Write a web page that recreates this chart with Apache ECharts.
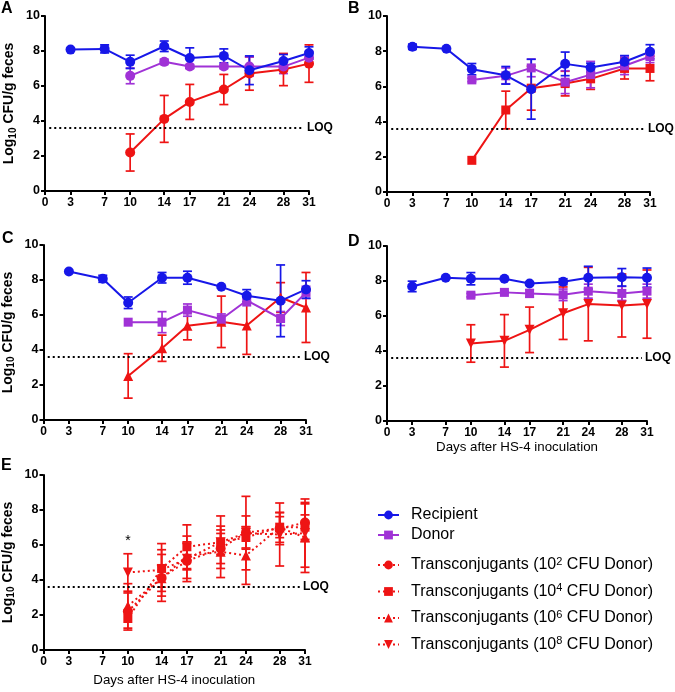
<!DOCTYPE html>
<html>
<head>
<meta charset="utf-8">
<script src="https://cdn.jsdelivr.net/npm/echarts@6/dist/echarts.min.js"></script>
<style>
  html, body { margin: 0; padding: 0; background: #fff; }
  #chart { width: 675px; height: 692px; }
</style>
</head>
<body>
<div id="chart"></div>
<script>
// ---------------- DATA ----------------
const xTicks = [0, 3, 7, 10, 14, 17, 21, 24, 28, 31];
const days = [3, 7, 10, 14, 17, 21, 24, 28, 31];
const tcDays = [10, 14, 17, 21, 24, 28, 31];
const LOQ = 3.6;

// Panel A
const recipA = [8.08, 8.12, 7.38, 8.27, 7.60, 7.72, 6.90, 7.43, 7.89];
const recipAErr = [0, 0.23, 0.38, 0.30, 0.58, 0.40, 0.82, 0.37, 0.35];
const donorA = [6.58, 7.38, 7.11, 7.11, 7.11, 7.11, 7.62];
const donorAErr = [0.45, 0.15, 0.12, 0.12, 0.55, 0.40, 0.35];
const tcA = [2.20, 4.12, 5.09, 5.80, 6.71, 6.94, 7.28];
const tcAErr = [1.06, 1.34, 1.00, 0.86, 0.95, 0.92, 1.07];

// Panel B
const recipB = [8.25, 8.14, 6.98, 6.63, 5.84, 7.28, 7.07, 7.40, 7.97];
const recipBErr = [0.15, 0, 0.32, 0.50, 1.70, 0.67, 0.25, 0.35, 0.40];
const donorB = [6.37, 6.60, 7.05, 6.24, 6.67, 7.17, 7.70];
const donorBErr = [0.10, 0.45, 0.50, 0.65, 0.75, 0.50, 0.35];
const tcB = [1.80, 4.66, 5.90, 6.16, 6.43, 7.02, 7.02];
const tcBErr = [0, 1.07, 1.25, 0.70, 0.60, 0.60, 0.70];

// Panel C
const recipC = [8.49, 8.07, 6.70, 8.13, 8.13, 7.61, 7.10, 6.81, 7.46];
const recipCErr = [0, 0.20, 0.33, 0.30, 0.37, 0.05, 0.35, 2.05, 0.50];
const donorC = [5.59, 5.59, 6.28, 5.76, 6.83, 5.80, 7.29];
const donorCErr = [0, 0.60, 0.35, 0.30, 0.30, 0.40, 0.35];
const tcC = [2.52, 4.10, 5.38, 5.61, 5.40, 7.00, 6.43];
const tcCErr = [1.27, 0.75, 0.80, 1.47, 1.65, 0.85, 2.00];

// Panel D
const recipD = [7.69, 8.19, 8.13, 8.13, 7.86, 7.96, 8.19, 8.21, 8.19];
const recipDErr = [0.30, 0.05, 0.35, 0.05, 0.05, 0.17, 0.65, 0.50, 0.55];
const donorD = [7.19, 7.35, 7.29, 7.21, 7.42, 7.29, 7.42];
const donorDErr = [0.10, 0.05, 0.22, 0.33, 0.40, 0.40, 0.40];
const tcD = [4.43, 4.58, 5.21, 6.16, 6.68, 6.60, 6.68];
const tcDErr = [1.07, 1.50, 1.30, 1.50, 2.10, 1.80, 1.95];

const tcNames = [
  'Transconjugants (10^2 CFU Donor)',
  'Transconjugants (10^4 CFU Donor)',
  'Transconjugants (10^6 CFU Donor)',
  'Transconjugants (10^8 CFU Donor)'
];
const asteriskDay = 10, asteriskY = 6.2;

// ---------------- STYLE ----------------
const FONT = "'Liberation Sans', Arial, Helvetica, sans-serif";
const BLUE = '#1717e8', PURPLE = '#a032d6', RED = '#ee1414';
const DOWN_TRI = 'path://M0,0 L10,0 L5,9 Z';
const DOT = [2, 3];

const panels = [
  { letter: 'A', grid: { left: 45, top: 16, width: 264, height: 175 }, tl: [1, 1],
    recip: recipA, recipErr: recipAErr, donor: donorA, donorErr: donorAErr, donorName: 'Donor (A)', donorSym: 'circle',
    tc: tcA, tcErr: tcAErr, tcSym: 'circle', tcSize: 10, yName: true, xName: false },
  { letter: 'B', grid: { left: 387, top: 16, width: 263, height: 176 }, tl: [348, 1],
    recip: recipB, recipErr: recipBErr, donor: donorB, donorErr: donorBErr, donorName: 'Donor', donorSym: 'rect',
    tc: tcB, tcErr: tcBErr, tcSym: 'rect', tcSize: 9, yName: false, xName: false },
  { letter: 'C', grid: { left: 43, top: 245, width: 263, height: 175 }, tl: [2, 231],
    recip: recipC, recipErr: recipCErr, donor: donorC, donorErr: donorCErr, donorName: 'Donor', donorSym: 'rect',
    tc: tcC, tcErr: tcCErr, tcSym: 'triangle', tcSize: 10, yName: true, xName: false },
  { letter: 'D', grid: { left: 387, top: 246, width: 260, height: 175 }, tl: [348, 234],
    recip: recipD, recipErr: recipDErr, donor: donorD, donorErr: donorDErr, donorName: 'Donor', donorSym: 'rect',
    tc: tcD, tcErr: tcDErr, tcSym: DOWN_TRI, tcSize: 10, yName: false, xName: true, xNameGap: 20 },
  { letter: 'E', grid: { left: 42, top: 475, width: 263, height: 175 }, tl: [1, 458],
    yName: true, xName: true, xNameGap: 24 }
];

const grids = [], xAxes = [], yAxes = [], series = [], titles = [];

function zip3(xs, ys, es) { return xs.map((x, i) => [x, ys[i], es[i]]); }
function zip2(xs, ys) { return xs.map((x, i) => [x, ys[i]]); }

function errSeries(idx, xs, ys, es, color) {
  return {
    type: 'custom', xAxisIndex: idx, yAxisIndex: idx, silent: true, z: 2,
    encode: { x: 0, y: 1 },
    data: zip3(xs, ys, es),
    renderItem: function (params, api) {
      const x = api.value(0), m = api.value(1), e = api.value(2);
      if (!e) return null;
      const p1 = api.coord([x, m + e]), p2 = api.coord([x, m - e]);
      const w = 4.5;
      const st = { stroke: color, lineWidth: 1.7 };
      return { type: 'group', children: [
        { type: 'line', shape: { x1: p1[0], y1: p1[1], x2: p2[0], y2: p2[1] }, style: st },
        { type: 'line', shape: { x1: p1[0] - w, y1: p1[1], x2: p1[0] + w, y2: p1[1] }, style: st },
        { type: 'line', shape: { x1: p2[0] - w, y1: p2[1], x2: p2[0] + w, y2: p2[1] }, style: st }
      ]};
    }
  };
}

function lineSeries(name, idx, xs, ys, color, symbol, size, dotted) {
  return {
    type: 'line', name: name, xAxisIndex: idx, yAxisIndex: idx, z: 3,
    data: zip2(xs, ys),
    symbol: symbol, symbolSize: size, showAllSymbol: true,
    itemStyle: { color: color, borderWidth: 0 },
    lineStyle: { color: color, width: 2, type: dotted ? DOT : 'solid' },
    emphasis: { disabled: true },
    silent: true
  };
}

function loqMarkLine() {
  return {
    silent: true, symbol: 'none', animation: false,
    lineStyle: { color: '#000', width: 2, type: DOT },
    label: { show: true, position: 'end', formatter: 'LOQ', color: '#000',
             fontFamily: FONT, fontWeight: 'bold', fontSize: 12, distance: 3 },
    emphasis: { disabled: true },
    data: [[{ coord: [0.5, LOQ] }, { coord: [30.4, LOQ] }]]
  };
}

const yNameRich = {
  b: { fontFamily: FONT, fontSize: 14, fontWeight: 'bold', color: '#000', lineHeight: 17 },
  s: { fontFamily: FONT, fontSize: 10, fontWeight: 'bold', color: '#000', lineHeight: 10, verticalAlign: 'bottom' }
};

panels.forEach((p, i) => {
  grids.push(Object.assign({ containLabel: false }, p.grid));
  titles.push({ text: p.letter, left: p.tl[0], top: p.tl[1], padding: 0,
    textStyle: { fontFamily: FONT, fontSize: 16, fontWeight: 'bold', color: '#000' } });
  xAxes.push({
    type: 'value', gridIndex: i, min: 0, max: 31,
    name: p.xName ? 'Days after HS-4 inoculation' : '',
    nameLocation: 'middle', nameGap: p.xNameGap || 20,
    nameTextStyle: { fontFamily: FONT, fontSize: 13.3, color: '#000' },
    axisLine: { show: true, onZero: false, lineStyle: { color: '#000', width: 2 } },
    axisTick: { show: true, customValues: xTicks, length: 4, lineStyle: { color: '#000', width: 2 } },
    axisLabel: { customValues: xTicks, margin: 6, color: '#000', fontFamily: FONT, fontSize: 12, fontWeight: 'bold' },
    splitLine: { show: false }
  });
  yAxes.push({
    type: 'value', gridIndex: i, min: 0, max: 10, interval: 2,
    name: p.yName ? '{b|Log}{s|10}{b| CFU/g feces}' : '',
    nameLocation: 'middle', nameGap: 27,
    nameTextStyle: { rich: yNameRich },
    axisLine: { show: true, onZero: false, lineStyle: { color: '#000', width: 2 } },
    axisTick: { show: true, length: 4, lineStyle: { color: '#000', width: 2 } },
    axisLabel: { margin: 5, color: '#000', fontFamily: FONT, fontSize: 12.5, fontWeight: 'bold' },
    splitLine: { show: false }
  });

  if (p.letter !== 'E') {
    series.push(errSeries(i, tcDays, p.tc, p.tcErr, RED));
    const tcS = lineSeries('Transconjugants ' + p.letter, i, tcDays, p.tc, RED, p.tcSym, p.tcSize, false);
    tcS.markLine = loqMarkLine();
    series.push(tcS);
    series.push(errSeries(i, tcDays, p.donor, p.donorErr, PURPLE));
    series.push(lineSeries(p.donorName, i, tcDays, p.donor, PURPLE, p.donorSym, p.donorSym === 'rect' ? 9 : 10, false));
    series.push(errSeries(i, days, p.recip, p.recipErr, BLUE));
    series.push(lineSeries('Recipient', i, days, p.recip, BLUE, 'circle', 10, false));
  } else {
    const tcSets = [[tcA, tcAErr, 'circle', 10], [tcB, tcBErr, 'rect', 9],
                    [tcC, tcCErr, 'triangle', 10], [tcD, tcDErr, DOWN_TRI, 10]];
    tcSets.forEach((s, k) => {
      series.push(errSeries(i, tcDays, s[0], s[1], RED));
      const ls = lineSeries(tcNames[k], i, tcDays, s[0], RED, s[2], s[3], true);
      if (k === 0) {
        ls.markLine = loqMarkLine();
        ls.markPoint = {
          silent: true, symbol: 'circle', symbolSize: 1, itemStyle: { color: 'rgba(0,0,0,0)' },
          label: { show: true, position: 'inside', formatter: '*', color: '#000', fontFamily: FONT, fontSize: 14 },
          data: [{ coord: [asteriskDay, asteriskY] }]
        };
      }
      series.push(ls);
    });
  }
});

const legRich = {
  t: { fontFamily: FONT, fontSize: 16, color: '#000', lineHeight: 18 },
  sup: { fontFamily: FONT, fontSize: 11, color: '#000', lineHeight: 11, verticalAlign: 'top' }
};
function legFmt(name) {
  return '{t|' + name.replace(/\^(\d+)/, '}{sup|$1}{t|') + '}';
}

const option = {
  animation: false,
  backgroundColor: '#fff',
  title: titles,
  grid: grids,
  xAxis: xAxes,
  yAxis: yAxes,
  legend: [
    { data: ['Recipient', 'Donor'], orient: 'vertical', left: 377, top: 507, padding: 0,
      itemWidth: 21, itemHeight: 11, itemGap: 4, selectedMode: false,
      formatter: legFmt, textStyle: { rich: legRich, padding: [0, 0, 0, 7] } },
    { data: tcNames, orient: 'vertical', left: 377, top: 556, padding: 0,
      itemWidth: 21, itemHeight: 11, itemGap: 9.5, selectedMode: false,
      formatter: legFmt, textStyle: { rich: legRich, padding: [0, 0, 0, 7] } }
  ],
  series: series
};

const chart = echarts.init(document.getElementById('chart'), null, { renderer: 'canvas' });
chart.setOption(option);
</script>
</body>
</html>
